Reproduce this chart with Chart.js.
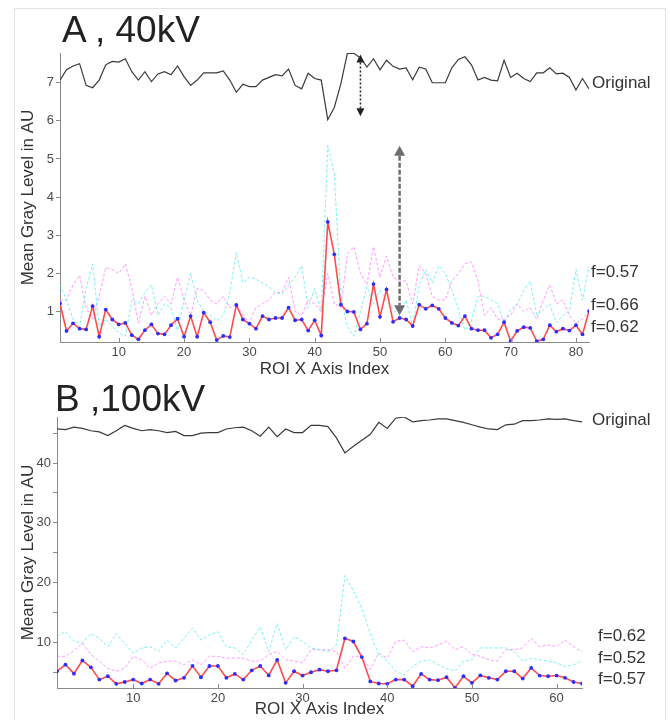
<!DOCTYPE html>
<html>
<head>
<meta charset="utf-8">
<script src="https://cdn.jsdelivr.net/npm/chart.js@4.4.0/dist/chart.umd.min.js"></script>
<style>
  body { margin: 0; background: #fff; font-family: "Liberation Sans", Arial, sans-serif; }
  #page { position: relative; width: 670px; height: 720px; overflow: hidden; background: #fff; }
  #frame { position: absolute; left: 14px; top: 8px; width: 650px; height: 730px; border: 1px solid #e2e2e2; }
  .wrap { position: absolute; left: 0; width: 670px; }
  .ttl { position: absolute; font-size: 37px; line-height: 37px; color: #222; white-space: nowrap; }
  .lab { position: absolute; font-size: 17px; line-height: 20px; color: #333; white-space: nowrap; }
</style>
</head>
<body>
<div id="page">
  <div id="frame"></div>
  <div class="wrap" style="top:0;height:380px"><canvas id="chartA"></canvas></div>
  <div class="wrap" style="top:380px;height:340px"><canvas id="chartB"></canvas></div>

  <div class="ttl" style="left:62px;top:11px">A , 40kV</div>
  <div class="lab" style="left:592px;top:73px">Original</div>
  <div class="lab" style="left:591px;top:262px">f=0.57</div>
  <div class="lab" style="left:591px;top:295px">f=0.66</div>
  <div class="lab" style="left:591px;top:317px">f=0.62</div>

  <div class="ttl" style="left:55px;top:380px">B ,100kV</div>
  <div class="lab" style="left:592px;top:410px">Original</div>
  <div class="lab" style="left:598px;top:626px">f=0.62</div>
  <div class="lab" style="left:598px;top:648px">f=0.52</div>
  <div class="lab" style="left:598px;top:669px">f=0.57</div>
</div>

<script>
// ---- panel A, 40kV (ROI index 1..82) ----
const A_ORIGINAL = [7.07,7.34,7.44,7.50,6.93,6.87,7.07,7.47,7.56,7.54,
  7.63,7.29,7.07,7.29,7.03,7.23,7.29,7.21,7.44,7.16,
  6.93,7.07,7.26,7.26,7.26,7.31,7.07,6.75,6.96,6.90,
  6.90,7.07,7.14,7.21,7.18,7.36,6.93,6.84,7.25,7.11,
  7.07,6.03,6.35,6.97,7.77,7.77,7.65,7.41,7.63,7.34,
  7.59,7.43,7.36,7.39,7.08,7.41,7.36,7.00,7.00,7.00,
  7.39,7.61,7.68,7.47,7.07,7.14,7.07,7.05,7.59,7.14,
  7.25,7.11,7.03,7.26,7.26,7.39,7.23,7.25,7.14,6.81,
  7.11,6.84];
const A_F062 = [1.21,0.49,0.69,0.55,0.53,1.14,0.34,1.05,0.79,0.66,
  0.70,0.38,0.27,0.51,0.66,0.42,0.40,0.64,0.81,0.34,
  0.88,0.34,0.97,0.72,0.25,0.36,0.33,1.17,0.79,0.68,
  0.55,0.88,0.79,0.83,0.83,1.10,0.77,0.79,0.50,0.77,
  0.37,3.35,2.50,1.18,1.00,0.99,0.53,0.68,1.72,0.86,
  1.58,0.73,0.83,0.79,0.62,1.18,1.07,1.16,1.07,0.83,
  0.70,0.63,0.88,0.55,0.51,0.51,0.31,0.40,0.72,0.22,
  0.49,0.59,0.57,0.22,0.27,0.64,0.47,0.55,0.50,0.64,
  0.40,1.01];
const A_F057 = [1.7,1.3,0.8,0.6,1.6,2.25,0.6,0.8,0.6,0.45,
  0.35,1.3,1.2,1.5,1.7,0.9,1.2,1.1,0.5,1.3,
  2.0,1.3,1.0,0.9,0.75,0.9,1.5,2.55,1.75,1.9,
  1.85,1.75,1.65,1.5,1.45,1.7,1.9,2.2,1.1,1.6,
  1.0,5.35,4.6,1.4,0.6,0.35,1.0,1.65,1.2,1.55,
  1.3,1.05,0.9,1.3,0.6,1.7,2.1,1.75,2.2,2.0,
  1.55,1.05,0.5,0.75,1.4,1.4,1.3,1.2,0.7,1.05,
  1.2,1.55,1.8,0.9,1.05,1.2,0.7,0.9,1.0,2.1,
  1.3,2.17];
const A_F066 = [1.3,1.3,1.7,1.95,1.1,0.8,1.4,2.15,2.1,2.0,
  2.25,1.6,0.7,1.4,0.9,1.2,1.4,1.2,1.9,1.3,
  0.9,1.6,1.55,1.3,1.2,1.4,1.1,1.2,0.9,0.7,
  1.1,1.2,1.3,1.5,1.5,1.9,1.0,0.9,1.3,1.2,
  1.0,2.0,1.2,1.1,2.5,2.7,2.0,1.7,2.7,1.9,
  2.45,1.9,1.8,1.8,1.2,2.2,2.0,1.4,1.3,1.3,
  1.8,2.0,2.25,2.3,1.8,0.9,1.1,0.8,0.8,0.9,
  1.2,1.0,1.1,0.8,1.3,1.7,1.2,1.3,0.9,0.7,
  0.8,1.0];

// ---- panel B, 100kV (ROI index 1..63) ----
const B_ORIGINAL = [45.7,45.6,46.0,45.8,45.4,45.2,44.6,45.4,46.3,45.8,
  45.4,45.6,45.4,45.1,45.3,44.6,44.6,45.0,45.1,45.1,
  45.7,45.9,46.0,45.4,44.5,46.0,44.4,45.7,45.1,45.1,
  46.3,46.3,46.1,44.2,41.7,42.8,43.8,44.8,46.8,45.8,
  47.5,47.7,46.9,47.1,47.2,47.4,47.4,47.1,46.8,46.4,
  46.0,45.7,45.6,46.4,46.5,47.1,47.1,47.2,47.4,47.3,
  47.4,47.1,46.9];
const B_F057 = [5.19,6.3,4.8,7.0,5.86,3.8,4.36,3.1,3.4,3.8,
  3.15,3.8,3.1,4.86,3.65,4.1,6.1,4.2,6.08,6.08,
  4.1,4.75,3.8,5.36,6.08,4.5,7.1,3.26,5.2,4.48,
  5.03,5.47,5.2,5.36,10.7,10.17,7.57,3.5,3.15,3.1,
  3.8,3.8,2.7,4.75,3.8,3.7,4.2,2.43,4.36,3.26,
  4.5,4.1,3.8,5.2,5.2,3.98,5.75,4.48,4.36,4.48,
  4.1,3.4,3.15];
const B_F052 = [11.0,11.8,10.2,9.9,11.5,10.7,9.3,11.5,9.9,8.2,
  9.1,9.3,8.5,10.4,9.1,10.7,12.4,10.4,11.3,11.8,
  9.3,9.1,8.0,10.4,12.6,8.5,13.2,8.8,11.0,10.2,
  9.1,8.8,8.5,9.6,21.2,18.7,15.7,11.5,8.0,6.9,
  5.2,4.6,6.0,6.9,7.1,6.3,5.7,5.2,6.9,7.1,
  9.1,9.1,9.1,9.1,8.5,6.9,7.4,7.1,6.9,6.6,
  6.0,6.3,6.9];
const B_F062 = [7.7,7.7,8.6,9.9,8.0,6.9,5.7,5.2,5.7,7.7,
  7.1,5.7,6.6,6.9,6.9,6.3,7.1,6.3,7.7,7.7,
  7.4,7.4,7.4,6.9,6.9,8.0,8.5,7.1,6.9,6.6,
  8.8,8.8,8.8,8.5,5.7,7.7,7.7,5.5,8.2,7.4,
  10.2,10.4,8.5,9.3,9.1,9.6,10.2,8.8,9.3,8.0,
  7.7,7.1,6.9,8.8,8.8,9.1,10.7,9.3,9.6,9.3,
  10.4,9.3,8.5];

const FONT = "'Liberation Sans', Arial, sans-serif";
const pts = arr => arr.map((v, i) => ({ x: i + 1, y: v }));

// small inward tick marks on the x axis (matlab style)
const inwardTicks = {
  id: "inwardTicks",
  afterDatasetsDraw(chart) {
    const { ctx, chartArea: a, scales: { x } } = chart;
    ctx.save();
    ctx.strokeStyle = "#8a8a8a";
    ctx.lineWidth = 1;
    ctx.beginPath();
    x.ticks.forEach(t => {
      const px = Math.round(x.getPixelForValue(t.value)) + 0.5;
      ctx.moveTo(px, a.bottom);
      ctx.lineTo(px, a.bottom - 4);
    });
    ctx.stroke();
    ctx.restore();
  }
};

// double headed vertical arrows, given in data units
const arrows = {
  id: "arrows",
  afterDatasetsDraw(chart, args, opts) {
    const { ctx, scales: { x, y } } = chart;
    (opts.items || []).forEach(a => {
      const px = x.getPixelForValue(a.at);
      const top = y.getPixelForValue(a.to);
      const bot = y.getPixelForValue(a.from);
      ctx.save();
      ctx.strokeStyle = a.color;
      ctx.fillStyle = a.color;
      ctx.lineWidth = a.width;
      ctx.setLineDash(a.dash);
      ctx.beginPath();
      ctx.moveTo(px, top + a.head);
      ctx.lineTo(px, bot - a.head);
      ctx.stroke();
      ctx.setLineDash([]);
      ctx.beginPath();
      ctx.moveTo(px, top);
      ctx.lineTo(px - a.half, top + a.head);
      ctx.lineTo(px + a.half, top + a.head);
      ctx.closePath();
      ctx.moveTo(px, bot);
      ctx.lineTo(px - a.half, bot - a.head);
      ctx.lineTo(px + a.half, bot - a.head);
      ctx.closePath();
      ctx.fill();
      ctx.restore();
    });
  }
};

function datasets(orig, red, cyan, mag) {
  return [
    { data: pts(red), borderColor: "#ff4a4a", borderWidth: 1.6,
      pointRadius: 1.9, pointBackgroundColor: "#2d2dff", pointBorderWidth: 0 },
    { data: pts(orig), borderColor: "#3a3a3a", borderWidth: 1.2, pointRadius: 0 },
    { data: pts(cyan), borderColor: "rgba(80,235,235,0.75)", borderWidth: 1,
      borderDash: [3, 2], pointRadius: 0 },
    { data: pts(mag), borderColor: "rgba(255,120,255,0.75)", borderWidth: 1,
      borderDash: [3, 2], pointRadius: 0 }
  ];
}

function makeChart(id, cfg) {
  return new Chart(document.getElementById(id), {
    type: "line",
    data: { datasets: cfg.datasets },
    options: {
      responsive: true,
      maintainAspectRatio: false,
      animation: false,
      events: [],
      layout: { padding: cfg.padding },
      elements: { line: { tension: 0 } },
      plugins: {
        legend: { display: false },
        tooltip: { enabled: false },
        arrows: { items: cfg.arrows || [] }
      },
      scales: {
        x: {
          type: "linear",
          min: cfg.xmax ? 1 : 1,
          max: cfg.xmax,
          afterFit: s => { s.height = cfg.xHeight; },
          border: { display: true, color: "#8a8a8a" },
          grid: { display: false, drawTicks: false },
          ticks: { stepSize: 10, includeBounds: false, maxRotation: 0, padding: 3,
                   color: "#4a4a4a", font: { family: FONT, size: 13 } },
          title: { display: true, text: "ROI X Axis Index", color: "#333",
                   padding: { top: 0, bottom: 0 }, font: { family: FONT, size: 17 } }
        },
        y: {
          min: cfg.ymin,
          max: cfg.ymax,
          afterFit: s => { s.width = cfg.yWidth; },
          border: { display: true, color: "#8a8a8a" },
          grid: { drawOnChartArea: false, drawTicks: true, tickLength: 4, color: "#8a8a8a" },
          ticks: { stepSize: cfg.yStep, includeBounds: false, padding: 2,
                   color: "#4a4a4a", font: { family: FONT, size: 13 },
                   callback: v => (v % cfg.yLabelEvery === 0 ? String(v) : "") },
          title: { display: true, text: "Mean Gray Level in AU", color: "#333",
                   padding: { top: 18, bottom: 0 }, font: { family: FONT, size: 17 } }
        }
      }
    },
    plugins: [inwardTicks, arrows]
  });
}

makeChart("chartA", {
  datasets: datasets(A_ORIGINAL, A_F062, A_F057, A_F066),
  xmax: 82, ymin: 0.2, ymax: 7.78, yStep: 1, yLabelEvery: 1,
  padding: { top: 53, right: 81, left: 0, bottom: 0 },
  xHeight: 38, yWidth: 60,
  arrows: [
    { at: 47, from: 6.12, to: 7.74, color: "#222", width: 1.5, dash: [2, 2], head: 8, half: 4 },
    { at: 53, from: 0.9, to: 5.35, color: "#6e6e6e", width: 2.5, dash: [5, 2], head: 10, half: 5.5 }
  ]
});

makeChart("chartB", {
  datasets: datasets(B_ORIGINAL, B_F057, B_F052, B_F062),
  xmax: 63, ymin: 2.4, ymax: 47.7, yStep: 5, yLabelEvery: 10,
  padding: { top: 37, right: 88, left: 0, bottom: 0 },
  xHeight: 32, yWidth: 57
});
</script>
</body>
</html>
